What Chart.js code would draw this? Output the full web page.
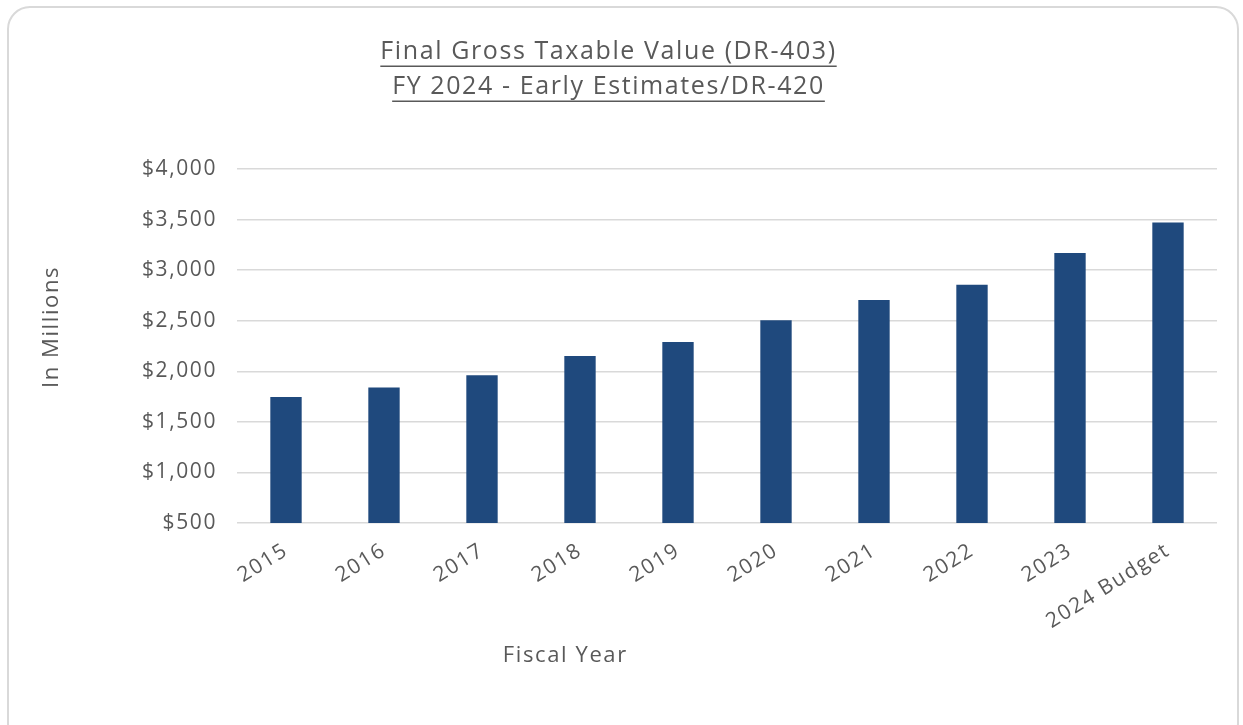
<!DOCTYPE html>
<html>
<head>
<meta charset="utf-8">
<script src="https://cdn.jsdelivr.net/npm/chart.js@4/dist/chart.umd.min.js"></script>
<style>
  html, body { margin: 0; padding: 0; background: #ffffff; overflow: hidden; }
  #wrap { position: relative; width: 1243px; height: 725px; }
  #card { position: absolute; left: 7px; top: 6px; width: 1232px; height: 740px;
          border: 2px solid #d9d9d9; border-radius: 23px; box-sizing: border-box; background: #fff; }
  #box { position: absolute; left: 0; top: 0; width: 1243px; height: 725px; }
</style>
</head>
<body>
<div id="wrap">
  <div id="card"></div>
  <div id="box"><canvas id="c" width="1243" height="725"></canvas></div>
</div>
<script>
const titleLines = ['Final Gross Taxable Value (DR-403)', 'FY 2024 - Early Estimates/DR-420'];
const categories = ['2015', '2016', '2017', '2018', '2019', '2020', '2021', '2022', '2023', '2024 Budget'];
const taxableValues = [1745, 1840, 1960, 2150, 2290, 2505, 2705, 2855, 3170, 3470];
const yTicks = [500, 1000, 1500, 2000, 2500, 3000, 3500, 4000];
const yAxisTitle = 'In Millions';
const xAxisTitle = 'Fiscal Year';

const FONT = "'Open Sans', 'DejaVu Sans', sans-serif";
const GRAY = '#595959';
const SPACING = '1.6px';

const extras = {
  id: 'extras',
  beforeLayout(chart) { chart.ctx.letterSpacing = SPACING; },
  beforeDraw(chart) { chart.ctx.letterSpacing = SPACING; },
  afterDraw(chart) {
    const ctx = chart.ctx;
    const tb = chart.titleBlock;
    ctx.save();
    ctx.letterSpacing = SPACING;
    const tf = Chart.helpers.toFont(chart.options.plugins.title.font);
    ctx.font = tf.string;
    ctx.strokeStyle = GRAY;
    ctx.lineWidth = 1.5;
    const pad = Chart.helpers.toPadding(chart.options.plugins.title.padding);
    const cx = (tb.left + tb.right) / 2;
    titleLines.forEach((t, i) => {
      const w = ctx.measureText(t).width;
      const cy = tb.top + pad.top + tf.lineHeight * i + tf.lineHeight / 2;
      const uy = Math.round(cy + 14) + 0.25;
      ctx.beginPath();
      ctx.moveTo(cx - w / 2, uy);
      ctx.lineTo(cx + w / 2, uy);
      ctx.stroke();
    });
    const ca = chart.chartArea;
    ctx.fillStyle = GRAY;
    ctx.font = "22px " + FONT;
    ctx.textAlign = 'center';
    ctx.textBaseline = 'middle';
    ctx.fillText(xAxisTitle, ca.left + (ca.right - ca.left) * 0.335, ca.bottom + 133);
    ctx.translate(52, (ca.top + ca.bottom) / 2 - 19);
    ctx.rotate(-Math.PI / 2);
    ctx.fillText(yAxisTitle, 0, 0);
    ctx.restore();
  }
};

new Chart(document.getElementById('c'), {
  type: 'bar',
  data: {
    labels: categories,
    datasets: [{
      label: 'Final Gross Taxable Value',
      data: taxableValues,
      backgroundColor: '#1F497D',
      borderWidth: 0,
      barPercentage: 0.32,
      categoryPercentage: 1.0
    }]
  },
  options: {
    responsive: false,
    animation: false,
    devicePixelRatio: 1,
    layout: { padding: { left: 0, right: 26, top: 0, bottom: 0 } },
    plugins: {
      legend: { display: false },
      tooltip: { enabled: false },
      title: {
        display: true,
        text: titleLines,
        color: GRAY,
        font: { family: FONT, size: 25, weight: 'normal', lineHeight: 35 / 25 },
        padding: { top: 34, bottom: 65 }
      }
    },
    scales: {
      x: {
        grid: { display: false, drawTicks: false },
        border: { display: false },
        ticks: {
          color: GRAY,
          font: { family: FONT, size: 21 },
          minRotation: 32,
          maxRotation: 32,
          padding: 15
        },
        afterFit(scale) { scale.height = 202; }
      },
      y: {
        min: 500,
        max: 4000,
        afterBuildTicks(scale) { scale.ticks = yTicks.map(v => ({ value: v })); },
        grid: { color: '#d9d9d9', lineWidth: 1.5, drawTicks: false },
        border: { display: false },
        ticks: {
          color: GRAY,
          font: { family: FONT, size: 21 },
          padding: 20,
          callback: v => '$' + Number(v).toLocaleString('en-US')
        },
        afterFit(scale) { scale.width = 237; }
      }
    }
  },
  plugins: [extras]
});
</script>
</body>
</html>
